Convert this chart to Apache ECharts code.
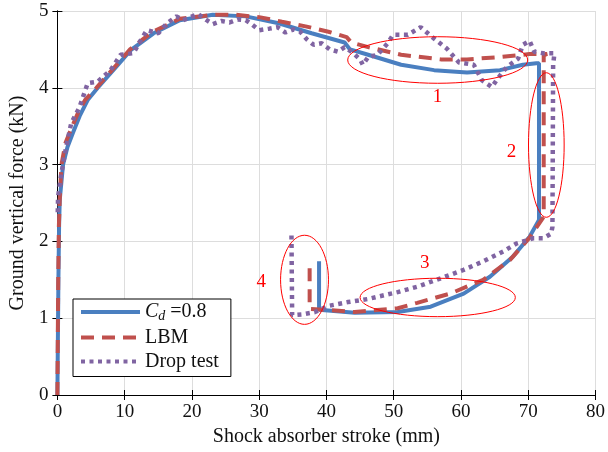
<!DOCTYPE html>
<html>
<head>
<meta charset="utf-8">
<script src="https://cdn.jsdelivr.net/npm/echarts@6/dist/echarts.min.js"></script>
<style>html,body{margin:0;padding:0;background:#fff}#c{width:608px;height:452px}</style>
</head>
<body>
<div id="c"></div>
<script>
var seriesNames = ['Cd', 'LBM', 'Drop test'];
var xTicks = [0, 10, 20, 30, 40, 50, 60, 70, 80];
var yTicks = [0, 1, 2, 3, 4, 5];

var cdData = [[0,0],[0.15,1.5],[0.25,2.2],[0.35,2.54],[0.84,3.0],[1.5,3.23],[2.3,3.41],[3.3,3.63],[4.5,3.84],[6.0,4.0],[8.7,4.27],[10.9,4.49],[14.3,4.71],[18.2,4.88],[23.1,4.95],[28,4.93],[32.9,4.84],[37.8,4.71],[42.7,4.59],[43.5,4.5],[46.2,4.43],[51.1,4.30],[56,4.23],[60.9,4.2],[65.8,4.23],[69.2,4.3],[71.2,4.32],[71.6,4.32],[71.6,2.28],[70.2,2.06],[67.7,1.80],[64.3,1.54],[60.4,1.32],[55.5,1.15],[50.6,1.08],[44.2,1.07],[38.9,1.11],[38.9,1.74]];

var lbmData = [[0,0],[0.12,1.5],[0.22,2.2],[0.35,2.55],[0.6,3.0],[1.2,3.28],[2.2,3.5],[3.1,3.68],[4.1,3.84],[5.8,4.0],[8.5,4.27],[10.8,4.5],[14,4.72],[18.2,4.9],[23.1,4.95],[26.6,4.95],[30,4.92],[33.4,4.86],[36.9,4.80],[40.3,4.73],[43.0,4.66],[43.7,4.59],[46.2,4.53],[51.1,4.43],[57,4.37],[60.9,4.37],[65.8,4.40],[70.2,4.44],[72.8,4.44],[72.3,4.42],[72.3,2.32],[70.2,2.05],[67.3,1.76],[63.3,1.50],[58.4,1.32],[53.5,1.20],[50.6,1.13],[44.2,1.08],[39.8,1.11],[37.5,1.12],[37.5,1.74]];

var dropData = [[0.05,2.38],[0.1,2.58],[0.6,2.89],[1.3,3.23],[2.06,3.54],[3.3,3.75],[4.5,4.06],[6.0,4.08],[7.9,4.23],[9.4,4.43],[11.3,4.45],[12.4,4.62],[13.3,4.75],[15,4.71],[16.3,4.84],[17.7,4.93],[18.7,4.88],[20.9,4.96],[22.2,4.88],[23.1,4.83],[24.4,4.87],[25.6,4.85],[26.8,4.89],[28.0,4.88],[29.0,4.82],[30.0,4.75],[31.5,4.77],[32.7,4.79],[33.9,4.72],[35.1,4.76],[36.1,4.73],[37.1,4.63],[38.1,4.56],[39.3,4.58],[40.5,4.50],[41.7,4.47],[42.7,4.53],[44.0,4.45],[45.0,4.37],[45.4,4.30],[46.2,4.40],[47.6,4.43],[49.1,4.58],[49.9,4.69],[52.1,4.69],[54.0,4.79],[56,4.64],[57.9,4.51],[59.7,4.33],[61.9,4.30],[63.1,4.10],[64.6,4.01],[65.3,4.10],[66.8,4.27],[68.5,4.38],[69.2,4.56],[70.2,4.61],[70.9,4.47],[72.2,4.45],[73.9,4.45],[73.7,4.3],[73.6,2.19],[73.4,2.1],[72.2,2.04],[70.7,2.04],[68.2,1.97],[66.3,1.87],[63.3,1.74],[60.4,1.63],[57.0,1.52],[53.5,1.41],[50.6,1.34],[49.6,1.32],[46.2,1.25],[43.2,1.21],[40.3,1.16],[38.3,1.08],[36.4,1.05],[34.9,1.04],[34.8,2.08]];

// annotation ellipses: [cx, cy, rx, ry] in data units
var ellipses = [[56.54,4.362,13.38,0.303],[72.69,3.255,2.65,0.941],[56.54,1.27,11.54,0.25],[36.74,1.50,3.56,0.58]];
var ellipseLabels = [[56.5,3.88,'1'],[67.5,3.16,'2'],[54.6,1.72,'3'],[30.3,1.47,'4']];

var FONT = '"Liberation Serif", "DejaVu Serif", serif';
var chart = echarts.init(document.getElementById('c'), null, {renderer: 'canvas'});

var axisCommon = {
  type: 'value',
  axisLine: {show: true, lineStyle: {color: '#000', width: 1}},
  axisTick: {show: true, inside: true, length: 5, lineStyle: {color: '#000'}},
  splitLine: {show: false}
};

var option = {
  animation: false,
  backgroundColor: '#fff',
  grid: {left: 56, right: 8, top: 11, bottom: 57, containLabel: false},
  legend: {
    orient: 'vertical', left: 73, top: 299,
    backgroundColor: '#fff', borderColor: '#000', borderWidth: 1,
    padding: [3, 12, 5, 6],
    itemWidth: 59, itemHeight: 12, itemGap: 4,
    itemStyle: {color: 'rgba(0,0,0,0)', borderWidth: 0, opacity: 0},
    lineStyle: {width: 4},
    data: seriesNames,
    textStyle: {fontFamily: FONT, fontSize: 20, color: '#111',
      rich: {
        i: {fontFamily: FONT, fontSize: 20, fontStyle: 'italic', color: '#111'},
        s: {fontFamily: FONT, fontSize: 14, fontStyle: 'italic', color: '#111', padding: [9, 0, 0, 0]},
        n: {fontFamily: FONT, fontSize: 20, color: '#111'}
      }},
    formatter: function (n) { return n === 'Cd' ? '{i|C}{s|d}{n| =0.8}' : n; }
  },
  xAxis: [
    Object.assign({}, axisCommon, {
      min: 0, max: 80, interval: 10, position: 'bottom',
      name: 'Shock absorber stroke (mm)', nameLocation: 'middle', nameGap: 30,
      nameTextStyle: {fontFamily: FONT, fontSize: 20, color: '#111'},
      axisLabel: {fontFamily: FONT, fontSize: 19, color: '#111', margin: 8,
        formatter: function (v) { return xTicks.indexOf(v) >= 0 ? String(v) : ''; }},
      splitLine: {show: true, lineStyle: {color: '#dddddd', width: 1}}
    }),
    Object.assign({}, axisCommon, {min: 0, max: 80, interval: 10, position: 'top', axisLabel: {show: false}})
  ],
  yAxis: [
    Object.assign({}, axisCommon, {
      min: 0, max: 5, interval: 1, position: 'left',
      name: 'Ground vertical force (kN)', nameLocation: 'middle', nameGap: 27,
      nameTextStyle: {fontFamily: FONT, fontSize: 20, color: '#111'},
      axisLabel: {fontFamily: FONT, fontSize: 19, color: '#111', margin: 9,
        formatter: function (v) { return yTicks.indexOf(v) >= 0 ? String(v) : ''; }},
      splitLine: {show: true, lineStyle: {color: '#dddddd', width: 1}}
    }),
    Object.assign({}, axisCommon, {min: 0, max: 5, interval: 1, position: 'right', axisLabel: {show: false}})
  ],
  series: [
    {name: 'Cd', type: 'line', data: cdData, symbol: 'none', color: '#4a7fc0',
      lineStyle: {color: '#4a7fc0', width: 4, type: 'solid'}, z: 3},
    {name: 'LBM', type: 'line', data: lbmData, symbol: 'none', color: '#c0504d',
      lineStyle: {color: '#c0504d', width: 4, type: [13, 8]}, z: 4},
    {name: 'Drop test', type: 'line', data: dropData, symbol: 'none', color: '#8064a2',
      lineStyle: {color: '#8064a2', width: 4.5, type: [4, 4.5]}, z: 5},
    {name: 'ellipses', type: 'custom', data: ellipses, z: 6, silent: true,
      renderItem: function (params, api) {
        var c = api.coord([api.value(0), api.value(1)]);
        var s = api.size([api.value(2), api.value(3)]);
        return {type: 'ellipse', shape: {cx: c[0], cy: c[1], rx: s[0], ry: s[1]},
          style: {fill: 'none', stroke: '#ff0000', lineWidth: 1}};
      }},
    {name: 'labels', type: 'custom', data: ellipseLabels, z: 6, silent: true,
      renderItem: function (params, api) {
        var c = api.coord([api.value(0), api.value(1)]);
        return {type: 'text', x: c[0], y: c[1],
          style: {text: ellipseLabels[params.dataIndex][2], fill: '#ff0000',
            font: '19px ' + FONT, textAlign: 'center', textVerticalAlign: 'middle'}};
      }}
  ]
};
chart.setOption(option);
</script>
</body>
</html>
